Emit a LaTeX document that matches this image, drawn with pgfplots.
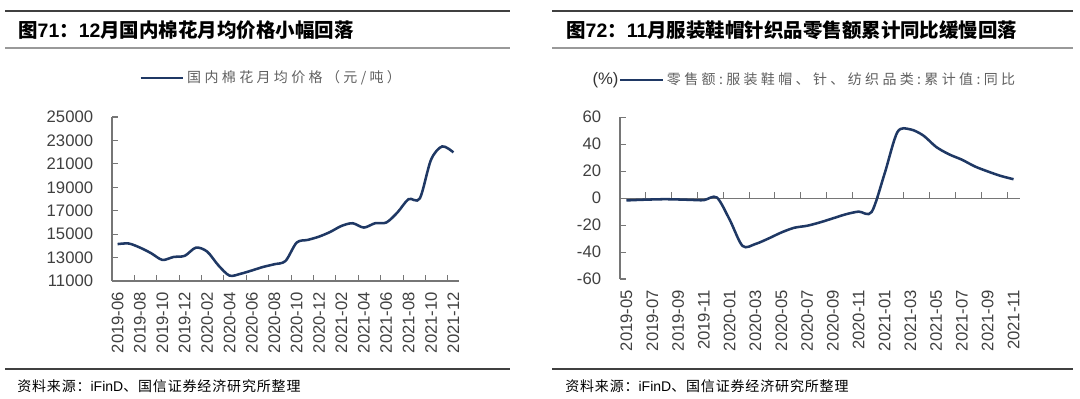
\documentclass[border=0pt]{standalone}
\usepackage{fontspec}
\setmainfont{Liberation Sans}
\newfontfamily\cjk{Noto Sans CJK SC}
\newfontfamily\cjkls[LetterSpace=24]{Noto Sans CJK SC}
\newfontfamily\cjksrc[LetterSpace=6]{Noto Sans CJK SC}
\usepackage{pgfplots}
\pgfplotsset{compat=1.18}
\definecolor{navy}{RGB}{31,56,100}
\definecolor{axgray}{RGB}{118,118,118}
\definecolor{txtgray}{RGB}{64,64,64}
\definecolor{leggray}{RGB}{96,96,96}
\tikzset{tk/.style={axgray, line width=0.8pt}}

\pgfplotstableread{
k v
0 14150
1 14200
2 13850
3 13370
4 12800
5 13050
6 13150
7 13850
8 13510
9 12340
10 11460
11 11620
12 11900
13 12200
14 12430
15 12710
16 14280
17 14510
18 14790
19 15190
20 15700
21 15930
22 15560
23 15930
24 15990
25 16850
26 17990
27 18050
28 21350
29 22490
30 21980
}\cotton

\pgfplotstableread{
k v
0 -1.7
1 -1.3
2 -1.0
3 -0.8
4 -1.0
5 -1.3
6 -1.5
7 0.5
8 -16
9 -35.5
10 -34
11 -30
12 -25.5
13 -22
14 -20.5
15 -18
16 -15
17 -12
18 -10
19 -10.3
20 18
21 49
22 51
23 46.5
24 38
25 32.5
26 28.5
27 23.5
28 19.8
29 16.5
30 14
}\apparel

\pgfplotsset{
  base/.style={
    scale only axis, anchor=south west,
    xmin=-0.5, xmax=30.5,
    axis line style={axgray, line width=0.8pt},
    major tick length=0pt,
    tick label style={font=\fontsize{12.5}{14}\selectfont, text=txtgray},
    /pgf/number format/assume math mode=true,
    /pgf/number format/1000 sep={},
    scaled y ticks=false,
    xticklabel style={rotate=90, anchor=east, inner sep=0pt},
    xticklabel shift=8pt,
    yticklabel style={inner sep=0pt},
    yticklabel shift=14pt,
    clip=false,
    legend style={draw=none, fill=none, inner sep=0pt, anchor=west,
      font=\cjkls\fontsize{10.5}{13}\selectfont, text=leggray},
    legend image code/.code={\draw[#1] (0pt,0pt) -- (32pt,0pt);},
  },
  dataline/.style={navy, line width=1.9pt, smooth, no markers},
}

\begin{document}
\begin{tikzpicture}[x=1pt,y=1pt]
\useasboundingbox (0,0) rectangle (810,299.25);

% ---------- left panel frame ----------
\draw[line width=0.9pt, black!75] (3.75,291) -- (382.5,291);
\draw[line width=0.9pt, black!40] (3.75,263.25) -- (382.5,263.25);
\node[anchor=west, inner sep=0pt, font=\fontsize{14.6}{17}\selectfont] at (13.5,276.75)
  {{\cjk\bfseries 图}{\bfseries 71}{\cjk\bfseries ：}{\bfseries 12}{\cjk\bfseries 月国内棉花月均价格小幅回落}};
\draw[line width=0.9pt, black!75] (3.75,22.5) -- (382.5,22.5);
\node[anchor=west, inner sep=0pt, font=\fontsize{10.5}{13}\selectfont] at (12.75,9.75)
  {{\cjksrc 资料来源：}iFinD{\cjksrc 、国信证券经济研究所整理}};

% ---------- right panel frame ----------
\draw[line width=0.9pt, black!75] (414,291) -- (804.75,291);
\draw[line width=0.9pt, black!40] (414,263.25) -- (804.75,263.25);
\node[anchor=west, inner sep=0pt, font=\fontsize{14.6}{17}\selectfont] at (424.5,276.75)
  {{\cjk\bfseries 图}{\bfseries 72}{\cjk\bfseries ：}{\bfseries 11}{\cjk\bfseries 月服装鞋帽针织品零售额累计同比缓慢回落}};
\draw[line width=0.9pt, black!75] (414,22.5) -- (804.75,22.5);
\node[anchor=west, inner sep=0pt, font=\fontsize{10.5}{13}\selectfont] at (423.75,9.75)
  {{\cjksrc 资料来源：}iFinD{\cjksrc 、国信证券经济研究所整理}};

% ---------- left panel ----------
\begin{axis}[base,
  at={(84pt,88.5pt)}, width=260.25pt, height=123pt,
  axis x line*=bottom, axis y line*=left,
  ymin=11000, ymax=25000, ytick={11000,13000,...,25000},
  xtick={0,2,...,30},
  xticklabels={2019-06,2019-08,2019-10,2019-12,2020-02,2020-04,2020-06,2020-08,2020-10,2020-12,2021-02,2021-04,2021-06,2021-08,2021-10,2021-12},
  legend style={at={(0.078,1.238)}},
]
\pgfplotsinvokeforeach{1.5,3.5,5.5,7.5,9.5,11.5,13.5,15.5,17.5,19.5,21.5,23.5,25.5,27.5,29.5}{
  \draw[tk] (axis cs:#1,11000) -- ++(0pt,4.5pt);}
\pgfplotsinvokeforeach{13000,15000,17000,19000,21000,23000,25000}{
  \draw[tk] (axis cs:-0.5,#1) -- ++(4.5pt,0pt);}
\addplot[dataline] table[x=k,y=v] {\cotton};
\addlegendentry{国内棉花月均价格（元/吨）}
\end{axis}

% ---------- right panel ----------
\begin{axis}[base,
  at={(465pt,90pt)}, width=300pt, height=121.3pt,
  axis x line*=bottom, axis y line*=left,
  x axis line style={draw=none},
  ymin=-60, ymax=60, ytick={-60,-40,...,60},
  xtick={0,2,...,30},
  xticklabels={2019-05,2019-07,2019-09,2019-11,2020-01,2020-03,2020-05,2020-07,2020-09,2020-11,2021-01,2021-03,2021-05,2021-07,2021-09,2021-11},
  legend style={at={(-0.003,1.23)}},
]
\node[anchor=east, inner sep=0pt, font=\fontsize{12.5}{14}\selectfont, text=black!80] at (rel axis cs:-0.003,1.23) {(\%)};
\draw[tk] (axis cs:-0.5,0) -- (axis cs:30.5,0);
\pgfplotsinvokeforeach{1.5,3.5,5.5,7.5,9.5,11.5,13.5,15.5,17.5,19.5,21.5,23.5,25.5,27.5,29.5}{
  \draw[tk] (axis cs:#1,0) -- ++(0pt,4.5pt);}
\pgfplotsinvokeforeach{-60,-40,-20,0,20,40,60}{
  \draw[tk] (axis cs:-0.5,#1) -- ++(4.5pt,0pt);}
\addplot[dataline] table[x=k,y=v] {\apparel};
\addlegendentry{零售额:服装鞋帽、针、纺织品类:累计值:同比}
\end{axis}
\end{tikzpicture}
\end{document}
